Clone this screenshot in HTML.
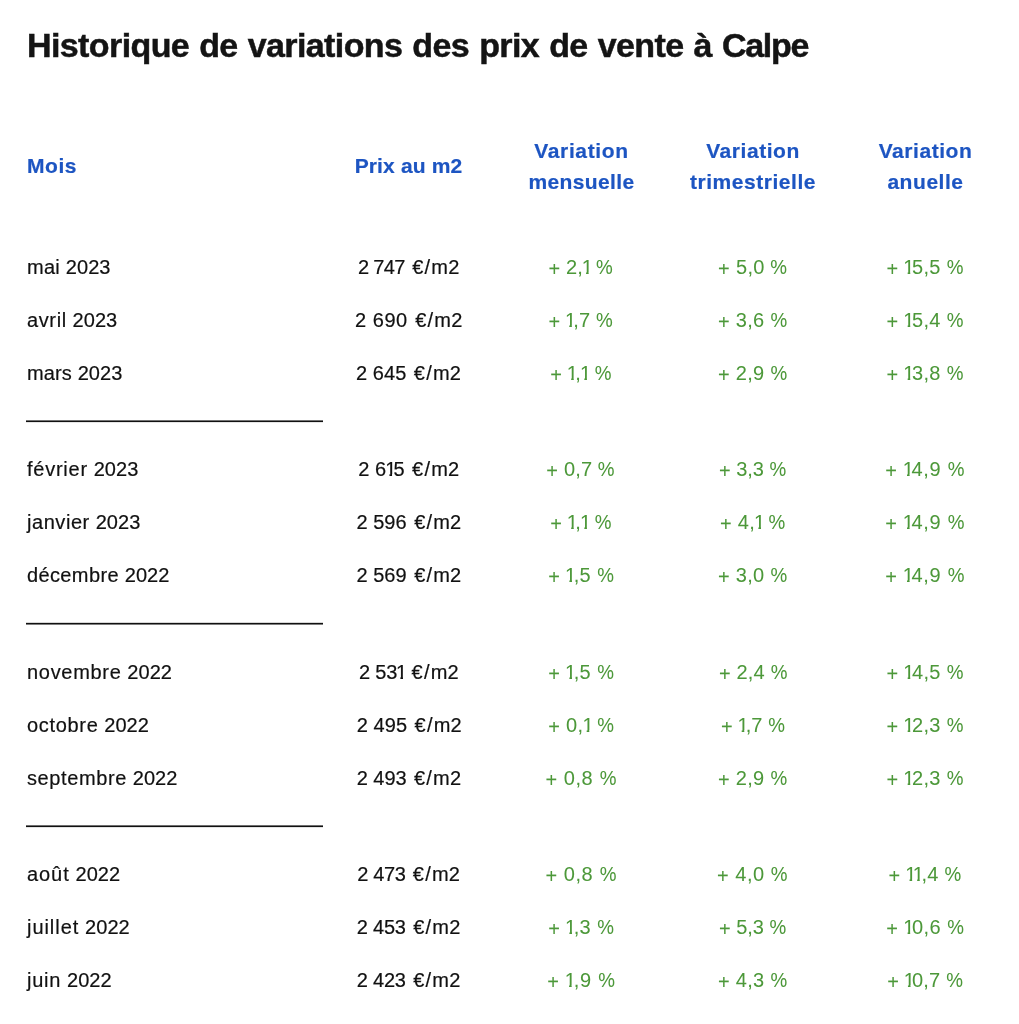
<!DOCTYPE html>
<html lang="fr"><head><meta charset="utf-8"><title>Historique</title>
<style>
html,body{margin:0;padding:0;background:#fff;}
body{width:1019px;height:1024px;position:relative;overflow:hidden;font-family:"Liberation Sans",Arial,sans-serif;}
#w{position:absolute;left:0;top:0;width:1019px;height:1024px;will-change:transform;}
h1{-webkit-text-stroke:0.5px currentColor;position:absolute;left:27px;top:28.2px;margin:0;font-size:34px;font-weight:bold;color:#141414;letter-spacing:-0.6px;word-spacing:1.2px;white-space:nowrap;line-height:1;}
.cal{letter-spacing:-1.3px;}
.h{-webkit-text-stroke:0.2px currentColor;position:absolute;color:#1d55c2;font-weight:bold;font-size:21px;line-height:31.5px;text-align:center;white-space:nowrap;letter-spacing:0.55px;}
.h.l{text-align:left;}
.r{position:absolute;left:0;width:1019px;-webkit-text-stroke:0.2px currentColor;height:28px;font-size:20px;line-height:28px;color:#111111;letter-spacing:0.1px;}
.c0{position:absolute;left:27px;white-space:nowrap;letter-spacing:0.25px;}
.cc{position:absolute;white-space:nowrap;transform:translateX(-50%);}
.mo{letter-spacing:0.65px;}
.yr{letter-spacing:0.05px;}
.g{color:#4c9839;letter-spacing:0.3px;}
.o{display:inline-block;width:8.3px;margin-left:-1.0px;margin-right:var(--ls,0px);clip-path:polygon(-2px 0,14px 0,14px 19px,6.9px 19px,6.9px 30px,4.3px 30px,4.3px 19px,-2px 19px);}
.pn{letter-spacing:var(--ls);}
.g{letter-spacing:var(--ls);-webkit-text-stroke:0.05px currentColor;}
.pu{letter-spacing:0.2px;}
.pe{letter-spacing:1.2px;margin-left:1.8px;}
.pl{position:relative;top:2.2px;}
.pc{display:inline-block;margin-left:0.0px;transform:scaleX(0.94);transform-origin:0 0;width:16.6px;}
.ln{position:absolute;left:26px;width:297px;height:3px;}
</style></head><body>
<div id="w">
<h1>Historique de variations des prix de vente à <span class="cal">Calpe</span></h1>
<div class="h l" style="left:27px;top:150.1px">Mois</div>
<div class="h" style="left:408.5px;top:150.1px;transform:translateX(-50%);letter-spacing:0.15px">Prix au m2</div>
<div class="h" style="left:581.5px;top:134.9px;transform:translateX(-50%)"><span style="letter-spacing:0.65px">Variation</span><br><span style="letter-spacing:0.38px">mensuelle</span></div>
<div class="h" style="left:753px;top:134.9px;transform:translateX(-50%)">Variation<br>trimestrielle</div>
<div class="h" style="left:925.5px;top:134.9px;transform:translateX(-50%)">Variation<br>anuelle</div>
<div class="r" style="top:253px"><span class="c0"><span class="mo" style="letter-spacing:0.247px">mai</span> <span class="yr">2023</span></span><span class="cc" style="left:408.71px"><span class="pn" style="--ls:-0.633px">2 747</span> <span class="pe">€/</span><span class="pu">m2</span></span><span class="cc g" style="left:580.47px;--ls:0.064px"><span class="pl">+</span> 2,<span class="o">1</span> <span class="pc">%</span></span><span class="cc g" style="left:752.66px;--ls:0.366px"><span class="pl">+</span> 5,0 <span class="pc">%</span></span><span class="cc g" style="left:924.83px;--ls:0.302px"><span class="pl">+</span> <span class="o">1</span>5,5 <span class="pc">%</span></span></div>
<div class="r" style="top:306px"><span class="c0"><span class="mo" style="letter-spacing:0.619px">avril</span> <span class="yr">2023</span></span><span class="cc" style="left:408.78px"><span class="pn" style="--ls:0.538px">2 690</span> <span class="pe">€/</span><span class="pu">m2</span></span><span class="cc g" style="left:580.47px;--ls:0.064px"><span class="pl">+</span> <span class="o">1</span>,7 <span class="pc">%</span></span><span class="cc g" style="left:752.43px;--ls:0.291px"><span class="pl">+</span> 3,6 <span class="pc">%</span></span><span class="cc g" style="left:924.83px;--ls:0.302px"><span class="pl">+</span> <span class="o">1</span>5,4 <span class="pc">%</span></span></div>
<div class="r" style="top:359px"><span class="c0"><span class="mo" style="letter-spacing:0.092px">mars</span> <span class="yr">2023</span></span><span class="cc" style="left:408.60px"><span class="pn" style="--ls:0.059px">2 645</span> <span class="pe">€/</span><span class="pu">m2</span></span><span class="cc g" style="left:580.55px;--ls:0.165px"><span class="pl">+</span> <span class="o">1</span>,<span class="o">1</span> <span class="pc">%</span></span><span class="cc g" style="left:752.43px;--ls:0.291px"><span class="pl">+</span> 2,9 <span class="pc">%</span></span><span class="cc g" style="left:924.83px;--ls:0.302px"><span class="pl">+</span> <span class="o">1</span>3,8 <span class="pc">%</span></span></div>
<div class="r" style="top:455px"><span class="c0"><span class="mo" style="letter-spacing:0.749px">février</span> <span class="yr">2023</span></span><span class="cc" style="left:408.81px"><span class="pn" style="--ls:0.041px">2 6<span class="o">1</span>5</span> <span class="pe">€/</span><span class="pu">m2</span></span><span class="cc g" style="left:580.54px;--ls:0.192px"><span class="pl">+</span> 0,7 <span class="pc">%</span></span><span class="cc g" style="left:752.53px;--ls:-0.001px"><span class="pl">+</span> 3,3 <span class="pc">%</span></span><span class="cc g" style="left:924.62px;--ls:0.583px"><span class="pl">+</span> <span class="o">1</span>4,9 <span class="pc">%</span></span></div>
<div class="r" style="top:508px"><span class="c0"><span class="mo" style="letter-spacing:0.557px">janvier</span> <span class="yr">2023</span></span><span class="cc" style="left:408.92px"><span class="pn" style="--ls:0.047px">2 596</span> <span class="pe">€/</span><span class="pu">m2</span></span><span class="cc g" style="left:580.55px;--ls:0.165px"><span class="pl">+</span> <span class="o">1</span>,<span class="o">1</span> <span class="pc">%</span></span><span class="cc g" style="left:752.57px;--ls:0.271px"><span class="pl">+</span> 4,<span class="o">1</span> <span class="pc">%</span></span><span class="cc g" style="left:924.62px;--ls:0.583px"><span class="pl">+</span> <span class="o">1</span>4,9 <span class="pc">%</span></span></div>
<div class="r" style="top:561px"><span class="c0"><span class="mo" style="letter-spacing:0.373px">décembre</span> <span class="yr">2022</span></span><span class="cc" style="left:408.92px"><span class="pn" style="--ls:0.047px">2 569</span> <span class="pe">€/</span><span class="pu">m2</span></span><span class="cc g" style="left:580.84px;--ls:0.322px"><span class="pl">+</span> <span class="o">1</span>,5 <span class="pc">%</span></span><span class="cc g" style="left:752.43px;--ls:0.291px"><span class="pl">+</span> 3,0 <span class="pc">%</span></span><span class="cc g" style="left:924.62px;--ls:0.583px"><span class="pl">+</span> <span class="o">1</span>4,9 <span class="pc">%</span></span></div>
<div class="r" style="top:658px"><span class="c0"><span class="mo" style="letter-spacing:0.695px">novembre</span> <span class="yr">2022</span></span><span class="cc" style="left:409.00px"><span class="pn" style="--ls:-0.236px">2 53<span class="o">1</span></span> <span class="pe">€/</span><span class="pu">m2</span></span><span class="cc g" style="left:580.84px;--ls:0.322px"><span class="pl">+</span> <span class="o">1</span>,5 <span class="pc">%</span></span><span class="cc g" style="left:753.10px;--ls:0.188px"><span class="pl">+</span> 2,4 <span class="pc">%</span></span><span class="cc g" style="left:924.83px;--ls:0.302px"><span class="pl">+</span> <span class="o">1</span>4,5 <span class="pc">%</span></span></div>
<div class="r" style="top:711px"><span class="c0"><span class="mo" style="letter-spacing:0.674px">octobre</span> <span class="yr">2022</span></span><span class="cc" style="left:409.34px"><span class="pn" style="--ls:0.048px">2 495</span> <span class="pe">€/</span><span class="pu">m2</span></span><span class="cc g" style="left:580.84px;--ls:0.322px"><span class="pl">+</span> 0,<span class="o">1</span> <span class="pc">%</span></span><span class="cc g" style="left:752.86px;--ls:0.045px"><span class="pl">+</span> <span class="o">1</span>,7 <span class="pc">%</span></span><span class="cc g" style="left:924.83px;--ls:0.302px"><span class="pl">+</span> <span class="o">1</span>2,3 <span class="pc">%</span></span></div>
<div class="r" style="top:764px"><span class="c0"><span class="mo" style="letter-spacing:0.604px">septembre</span> <span class="yr">2022</span></span><span class="cc" style="left:409.02px"><span class="pn" style="--ls:-0.077px">2 493</span> <span class="pe">€/</span><span class="pu">m2</span></span><span class="cc g" style="left:580.74px;--ls:0.561px"><span class="pl">+</span> 0,8 <span class="pc">%</span></span><span class="cc g" style="left:752.43px;--ls:0.291px"><span class="pl">+</span> 2,9 <span class="pc">%</span></span><span class="cc g" style="left:924.83px;--ls:0.302px"><span class="pl">+</span> <span class="o">1</span>2,3 <span class="pc">%</span></span></div>
<div class="r" style="top:860px"><span class="c0"><span class="mo" style="letter-spacing:0.938px">août</span> <span class="yr">2022</span></span><span class="cc" style="left:408.74px"><span class="pn" style="--ls:-0.399px">2 473</span> <span class="pe">€/</span><span class="pu">m2</span></span><span class="cc g" style="left:580.74px;--ls:0.561px"><span class="pl">+</span> 0,8 <span class="pc">%</span></span><span class="cc g" style="left:752.16px;--ls:0.508px"><span class="pl">+</span> 4,0 <span class="pc">%</span></span><span class="cc g" style="left:924.82px;--ls:0.314px"><span class="pl">+</span> <span class="o">1</span><span class="o">1</span>,4 <span class="pc">%</span></span></div>
<div class="r" style="top:913px"><span class="c0"><span class="mo" style="letter-spacing:0.950px">juillet</span> <span class="yr">2022</span></span><span class="cc" style="left:408.68px"><span class="pn" style="--ls:-0.214px">2 453</span> <span class="pe">€/</span><span class="pu">m2</span></span><span class="cc g" style="left:580.84px;--ls:0.322px"><span class="pl">+</span> <span class="o">1</span>,3 <span class="pc">%</span></span><span class="cc g" style="left:752.53px;--ls:-0.001px"><span class="pl">+</span> 5,3 <span class="pc">%</span></span><span class="cc g" style="left:924.94px;--ls:0.419px"><span class="pl">+</span> <span class="o">1</span>0,6 <span class="pc">%</span></span></div>
<div class="r" style="top:966px"><span class="c0"><span class="mo" style="letter-spacing:0.754px">juin</span> <span class="yr">2022</span></span><span class="cc" style="left:408.68px"><span class="pn" style="--ls:-0.214px">2 423</span> <span class="pe">€/</span><span class="pu">m2</span></span><span class="cc g" style="left:580.90px;--ls:0.673px"><span class="pl">+</span> <span class="o">1</span>,9 <span class="pc">%</span></span><span class="cc g" style="left:752.43px;--ls:0.291px"><span class="pl">+</span> 4,3 <span class="pc">%</span></span><span class="cc g" style="left:924.83px;--ls:0.123px"><span class="pl">+</span> <span class="o">1</span>0,7 <span class="pc">%</span></span></div>
<div class="ln" style="top:420px;background:linear-gradient(to bottom,rgb(115,115,115) 0,rgb(115,115,115) 1px,rgb(17,17,17) 1px,rgb(17,17,17) 2px,rgb(230,230,230) 2px,rgb(230,230,230) 3px)"></div>
<div class="ln" style="top:622px;background:linear-gradient(to bottom,rgb(215,215,215) 0,rgb(215,215,215) 1px,rgb(17,17,17) 1px,rgb(17,17,17) 2px,rgb(125,125,125) 2px,rgb(125,125,125) 3px)"></div>
<div class="ln" style="top:825px;background:linear-gradient(to bottom,rgb(110,110,110) 0,rgb(110,110,110) 1px,rgb(17,17,17) 1px,rgb(17,17,17) 2px,rgb(228,228,228) 2px,rgb(228,228,228) 3px)"></div>
</div>
</body></html>
